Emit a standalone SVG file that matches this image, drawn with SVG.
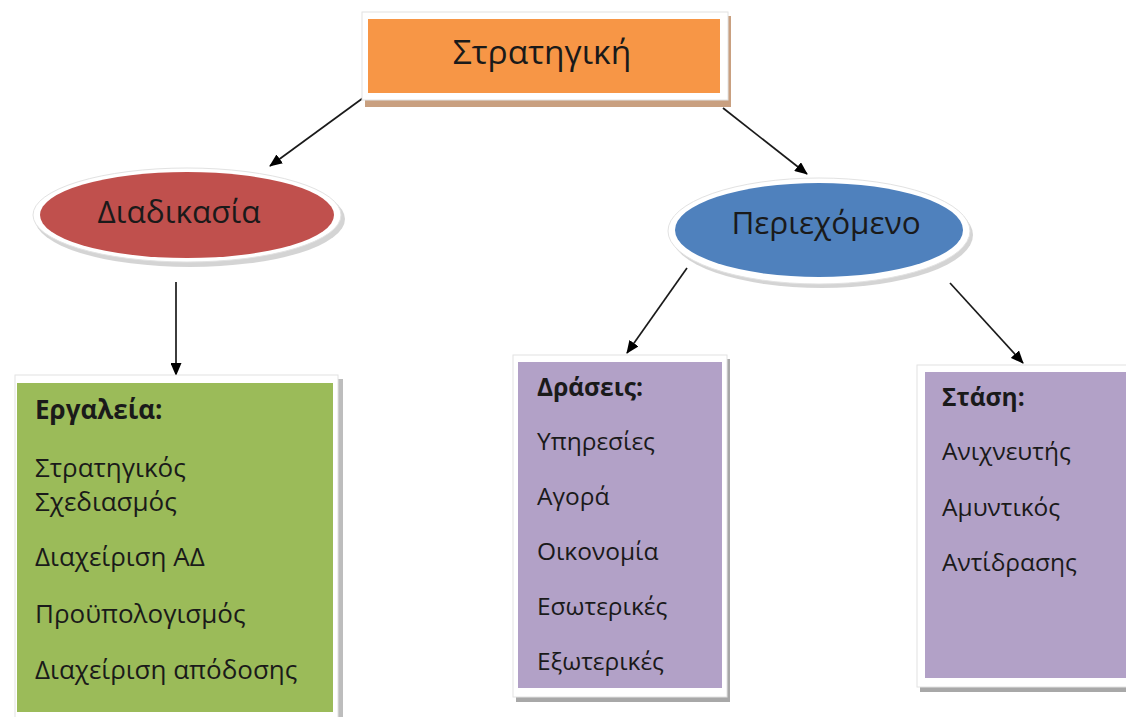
<svg xmlns="http://www.w3.org/2000/svg" width="1126" height="717" viewBox="0 0 1126 717">
<defs>
<style>
.t{font-family:"Open Sans","Liberation Sans",sans-serif;fill:#1a1a1a}
.h{font-size:33.5px}
.e{font-size:31.5px}
.b{font-size:24.5px}
.bb{font-size:24.5px;font-weight:bold}
.g{font-size:26px}
.rim{fill:#ffffff;stroke:#e2e2e2;stroke-width:1}
.ln{stroke:#1a1a1a;stroke-width:1.7;fill:none;marker-end:url(#ah)}
</style>
<marker id="ah" viewBox="0 0 13 11" refX="12" refY="5.5" markerWidth="13" markerHeight="11" markerUnits="userSpaceOnUse" orient="auto">
<path d="M0,0 L13,5.5 L0,11 Z" fill="#000"/>
</marker>
</defs>
<rect width="1126" height="717" fill="#ffffff"/>

<g id="connectors">
<line class="ln" x1="363" y1="98" x2="270" y2="166"/>
<line class="ln" x1="723" y1="108" x2="807" y2="174"/>
<line class="ln" x1="176" y1="282" x2="176" y2="375"/>
<line class="ln" x1="687" y1="268" x2="627" y2="353"/>
<line class="ln" x1="950" y1="283" x2="1023" y2="363"/>
</g>

<g id="strategiki">
<rect x="365" y="16" width="366" height="91" fill="#c9a080"/>
<rect class="rim" x="362" y="12" width="366" height="88"/>
<rect x="368" y="19" width="352" height="74" fill="#F79646"/>
<text class="t h" x="542" y="64" text-anchor="middle">Στρατηγική</text>
</g>

<g id="diadikasia">
<ellipse cx="190" cy="219" rx="155" ry="48" fill="#b0b0b0" opacity="0.55"/>
<ellipse class="rim" cx="187" cy="215" rx="154" ry="47"/>
<ellipse cx="187" cy="215" rx="147" ry="43" fill="#C0504D"/>
<text class="t e" x="179" y="223" text-anchor="middle">Διαδικασία</text>
</g>

<g id="periexomeno">
<ellipse cx="822" cy="235" rx="151" ry="53" fill="#b0b0b0" opacity="0.55"/>
<ellipse class="rim" cx="819" cy="231" rx="151" ry="53"/>
<ellipse cx="819" cy="230" rx="144" ry="47" fill="#4F81BD"/>
<text class="t e" x="826" y="234" text-anchor="middle">Περιεχόμενο</text>
</g>

<g id="ergaleia">
<rect x="19" y="379" width="324" height="345" fill="#bdbdbd"/>
<rect class="rim" x="15" y="375" width="323" height="345"/>
<rect x="17" y="383" width="316" height="329" fill="#9BBB59"/>
<text class="t g" x="35" y="419" font-weight="bold">Εργαλεία:</text>
<text class="t g" x="35" y="477">Στρατηγικός</text>
<text class="t g" x="35" y="511">Σχεδιασμός</text>
<text class="t g" x="35" y="566">Διαχείριση ΑΔ</text>
<text class="t g" x="35" y="623">Προϋπολογισμός</text>
<text class="t g" x="35" y="679">Διαχείριση απόδοσης</text>
</g>

<g id="draseis">
<rect x="516" y="359" width="214" height="343" fill="#a8a8a8"/>
<rect class="rim" x="513" y="355" width="214" height="342"/>
<rect x="518" y="362" width="204" height="326" fill="#B2A1C7"/>
<text class="t bb" x="537" y="396">Δράσεις:</text>
<text class="t b" x="537" y="450">Υπηρεσίες</text>
<text class="t b" x="537" y="505">Αγορά</text>
<text class="t b" x="537" y="560">Οικονομία</text>
<text class="t b" x="537" y="615">Εσωτερικές</text>
<text class="t b" x="537" y="670">Εξωτερικές</text>
</g>

<g id="stasi">
<rect x="920" y="369" width="220" height="323" fill="#a8a8a8"/>
<rect class="rim" x="917" y="365" width="220" height="322"/>
<rect x="925" y="372" width="210" height="306" fill="#B2A1C7"/>
<text class="t bb" x="942" y="406">Στάση:</text>
<text class="t b" x="942" y="460">Ανιχνευτής</text>
<text class="t b" x="942" y="516">Αμυντικός</text>
<text class="t b" x="942" y="571">Αντίδρασης</text>
</g>
</svg>
